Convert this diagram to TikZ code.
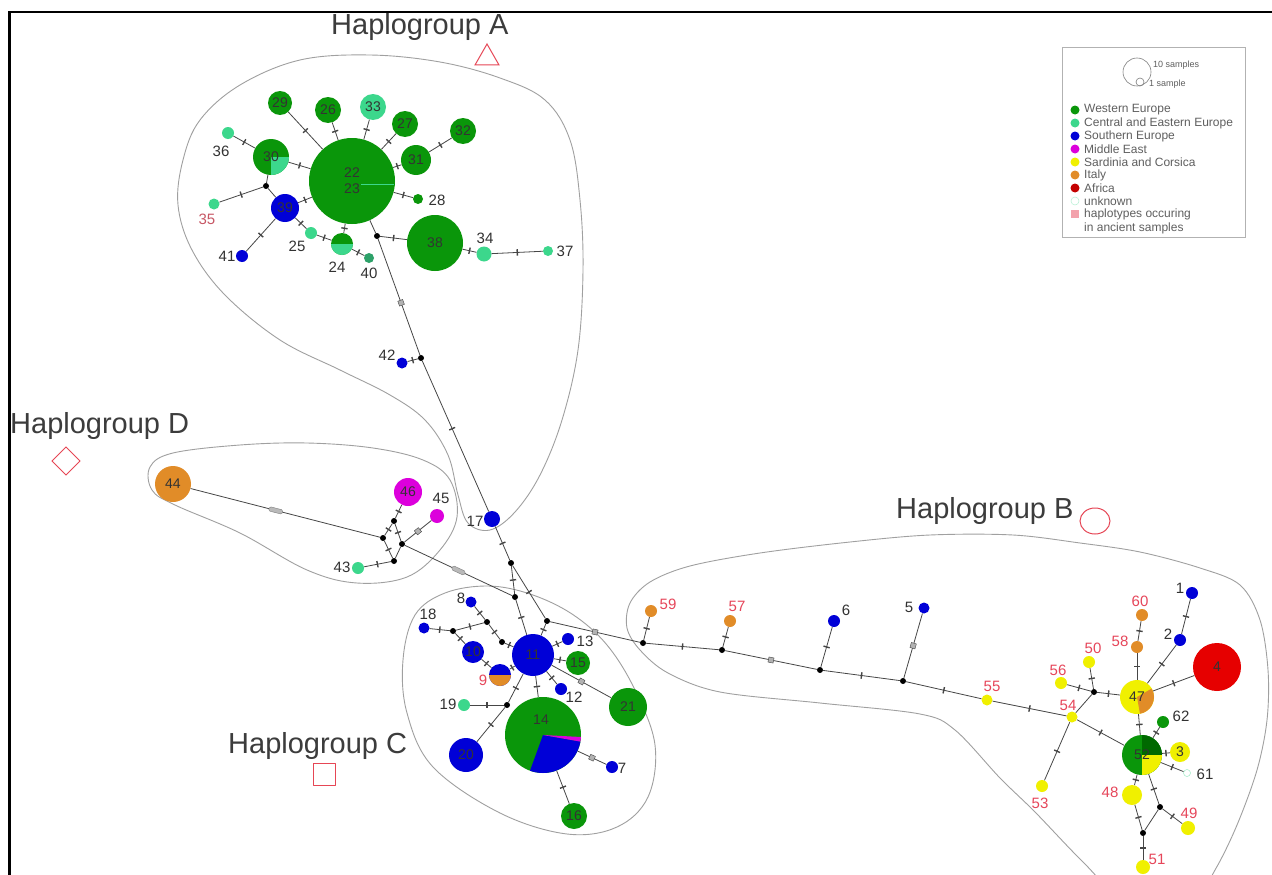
\documentclass[tikz,border=0pt]{standalone}
\usepackage{fontspec}
\setmainfont{Liberation Sans}
\usetikzlibrary{decorations.markings}
\newcommand\fsz[1]{\fontsize{#1}{#1}\selectfont}
\newcommand\hwedge[5]{\fill[#1] (#2) -- ++(#3:#5) arc[start angle=#3, end angle=#4, radius=#5] -- cycle;}
\definecolor{we}{RGB}{10,150,10}
\definecolor{wedark}{RGB}{0,105,0}
\definecolor{cee}{RGB}{60,215,140}
\definecolor{se}{RGB}{0,0,215}
\definecolor{me}{RGB}{220,0,220}
\definecolor{sc}{RGB}{240,240,0}
\definecolor{it}{RGB}{225,140,40}
\definecolor{af}{RGB}{230,0,0}
\definecolor{anc}{RGB}{230,70,90}
\definecolor{lab}{RGB}{50,50,50}
\definecolor{hullc}{RGB}{160,160,160}
\definecolor{edgec}{RGB}{70,70,70}
\definecolor{grpc}{RGB}{60,60,60}
\definecolor{symc}{RGB}{230,70,85}
\definecolor{legc}{RGB}{95,95,95}
\begin{document}
\begin{tikzpicture}[x=1pt,y=-1pt,
 hap/.style={circle, inner sep=0pt, text=black!80, font=\fsz{14}},
 jn/.style={circle, fill=black, inner sep=0pt, minimum size=6pt},
 lbl/.style={inner sep=0pt, text=lab, font=\fsz{15}},
 alb/.style={lbl, text=anc},
 edge/.style={draw=edgec, line width=0.8pt},
 mut/.style={postaction={decorate, decoration={markings, mark=at position #1 with {\fill[edgec] (-0.7pt,-3.2pt) rectangle (0.7pt,3.2pt);}}}},
 mut/.default=0.5,
 mutd/.style={postaction={decorate, decoration={markings, mark=at position #1 with {\filldraw[fill=gray!60, draw=edgec, line width=0.4pt] (-2.6pt,-2.6pt) rectangle (2.6pt,2.6pt);}}}},
 mutd/.default=0.5,
 mutl/.style={postaction={decorate, decoration={markings, mark=at position #1 with {\filldraw[fill=gray!55, draw=gray, line width=0.4pt, rounded corners=1.5pt] (-7pt,-2.2pt) rectangle (7pt,2.2pt);}}}},
 mutl/.default=0.5,
 hull/.style={draw=hullc, line width=0.9pt},
 grp/.style={font=\fsz{29}, text=grpc, inner sep=0pt, anchor=base west},
 sym/.style={draw=symc, line width=1pt},
 legt/.style={font=\fsz{12}, text=legc, inner sep=0pt, anchor=west},
]
\useasboundingbox (0,0) rectangle (1272,875);
\clip (0,0) rectangle (1272,875);
\fill[white] (0,0) rectangle (1272,875);
\draw[line width=2.5pt] (9.5,900) -- (9.5,12) -- (1300,12);

% ---------- hulls ----------
\draw[hull] plot[smooth cycle, tension=0.6] coordinates {(183,160) (200,120) (240,85) (300,60) (370,55) (440,62) (500,78) (545,100) (570,140) (580,200) (583,270) (578,350) (562,420) (540,475) (515,512) (490,530) (468,523) (458,495) (448,455) (425,420) (390,395) (340,370) (280,340) (225,295) (192,250) (178,205)};
\draw[hull] plot[smooth cycle, tension=0.6] coordinates {(150,467) (173,453) (240,445) (307,443) (373,448) (423,460) (450,480) (457,517) (440,550) (407,577) (357,583) (307,570) (240,533) (175,505) (152,490)};
\draw[hull] plot[smooth cycle, tension=0.6] coordinates {(403,660) (415,615) (445,593) (488,586) (530,594) (572,614) (607,645) (635,690) (655,745) (648,797) (617,827) (567,834) (500,813) (433,767) (407,713)};
\draw[hull] plot[smooth cycle, tension=0.55] coordinates {(627,628) (630,603) (650,582) (690,566) (760,553) (850,542) (930,535) (1013,535) (1080,543) (1140,552) (1200,568) (1240,585) (1260,620) (1268,670) (1267,720) (1257,770) (1237,825) (1215,870) (1190,905) (1130,905) (1083,862) (1035,812) (1000,778) (955,730) (920,714) (820,703) (720,692) (668,673) (640,650)};

% ---------- group labels ----------
\node[grp] (hA) at (331,35) {Haplogroup A};
\node[grp] (hD) at (10,433) {Haplogroup D};
\node[grp] (hC) at (228,753) {Haplogroup C};
\node[grp] (hB) at (896,518) {Haplogroup B};
\draw[sym] (475,65) -- (487,44) -- (499,65) -- cycle;
\draw[sym] (52,461) -- (66,447) -- (80,461) -- (66,475) -- cycle;
\draw[draw=symc, line width=1.2pt, line join=round] (313.5,763.5) -- (335.5,763.5) -- (335.5,785.5) -- (313.5,785.5) -- cycle;
\draw[sym] (1095,521) ellipse[x radius=15, y radius=13];

% ---------- legend ----------
\draw[draw=gray!60, line width=0.6pt] (1062,47) rectangle (1245,237);
\draw[gray, line width=0.6pt] (1137,72) circle[radius=14];
\draw[gray, line width=0.6pt] (1140,82) circle[radius=4];
\node[legt, font=\fsz{9}] (ls10) at (1153,65) {10 samples};
\node[legt, font=\fsz{9}] (ls1) at (1149,84) {1 sample};
\fill[we] (1075,110) circle[radius=4.5];
\fill[cee] (1075,123) circle[radius=4.5];
\fill[se] (1075,136) circle[radius=4.5];
\fill[me] (1075,149) circle[radius=4.5];
\fill[sc] (1075,162) circle[radius=4.5];
\fill[it] (1075,175) circle[radius=4.5];
\fill[af!85!black] (1075,188) circle[radius=4.5];
\draw[cee!40, fill=white, line width=0.5pt] (1075,201) circle[radius=4];
\fill[anc!50] (1071,210) rectangle (1079,218);
\node[legt] (lg1) at (1084,110) {Western Europe};
\node[legt] (lg2) at (1084,123) {Central and Eastern Europe};
\node[legt] (lg3) at (1084,136) {Southern Europe};
\node[legt] (lg4) at (1084,149) {Middle East};
\node[legt] (lg5) at (1084,162) {Sardinia and Corsica};
\node[legt] (lg6) at (1084,175) {Italy};
\node[legt] (lg7) at (1084,188) {Africa};
\node[legt] (lg8) at (1084,201) {unknown};
\node[legt] (lg9) at (1084,214) {haplotypes occuring};
\node[legt] (lg10) at (1084,228) {in ancient samples};

% ---------- Haplogroup A nodes ----------
\node[hap, fill=we, minimum size=86pt, align=center, font=\fontsize{14}{16}\selectfont] (n22) at (352,181) {22\\23};
\draw[cee, line width=0.8pt] (361,184) -- (394,184);
\node[hap, fill=we, minimum size=24pt] (n29) at (280,103) {29};
\node[hap, fill=we, minimum size=26pt] (n26) at (328,110) {26};
\node[hap, fill=cee, minimum size=26pt] (n33) at (373,107) {33};
\node[hap, fill=we, minimum size=26pt] (n27) at (405,124) {27};
\node[hap, fill=we, minimum size=26pt] (n32) at (463,131) {32};
\node[hap, fill=we, minimum size=30pt] (n31) at (416,160) {31};
\node[hap, fill=we, minimum size=36pt] (n30) at (271,157) {};
\hwedge{cee}{n30.center}{0}{90}{18}
\node[hap] (t30) at (n30.center) {30};
\node[hap, fill=cee, minimum size=12pt] (n36) at (228,133) {};
\node[hap, fill=cee, minimum size=11pt] (n35) at (214,204) {};
\node[hap, fill=se, minimum size=28pt] (n39) at (285,208) {39};
\node[hap, fill=se, minimum size=12pt] (n41) at (242,256) {};
\node[hap, fill=cee, minimum size=12pt] (n25) at (311,233) {};
\node[hap, fill=we, minimum size=22pt] (n24) at (342,244) {};
\hwedge{cee}{n24.center}{0}{180}{11}
\node[hap, fill=cee!75!black, minimum size=10pt] (n40) at (369,258) {};
\node[hap, fill=we, minimum size=10pt] (n28) at (418,199) {};
\node[hap, fill=we, minimum size=56pt] (n38) at (435,243) {38};
\node[hap, fill=cee, minimum size=15pt] (n34) at (484,254) {};
\node[hap, fill=cee, minimum size=10pt] (n37) at (548,251) {};
\node[jn] (jA1) at (266,186) {};
\node[jn] (jA2) at (377,236) {};
\node[jn] (jA3) at (421,358) {};
\node[hap, fill=se, minimum size=11pt] (n42) at (402,363) {};
\node[hap, fill=se, minimum size=16pt] (n17) at (492,519) {};
\node[lbl] (l36) at (221,151) {36};
\node[alb, text=anc!70!gray] (l35) at (207,219) {35};
\node[lbl] (l41) at (227,256) {41};
\node[lbl] (l25) at (297,246) {25};
\node[lbl] (l24) at (337,267) {24};
\node[lbl] (l40) at (369,273) {40};
\node[lbl] (l28) at (437,200) {28};
\node[lbl] (l34) at (485,238) {34};
\node[lbl] (l37) at (565,251) {37};
\node[lbl] (l42) at (387,355) {42};
\node[lbl] (l17) at (475,521) {17};

% ---------- Haplogroup D nodes ----------
\node[hap, fill=it, minimum size=36pt] (n44) at (173,484) {44};
\node[hap, fill=me, minimum size=28pt] (n46) at (408,492) {46};
\node[hap, fill=me, minimum size=14pt] (n45) at (437,516) {};
\node[hap, fill=cee, minimum size=12pt] (n43) at (358,568) {};
\node[jn] (jD1) at (394,521) {};
\node[jn] (jD2) at (383,538) {};
\node[jn] (jD3) at (402,544) {};
\node[jn] (jD4) at (394,561) {};
\node[lbl] (l45) at (441,498) {45};
\node[lbl] (l43) at (342,567) {43};

% ---------- Haplogroup C nodes ----------
\node[jn] (jC0) at (511,563) {};
\node[jn] (jC1) at (515,597) {};
\node[jn] (jC2) at (547,621) {};
\node[hap, fill=se, minimum size=42pt] (n11) at (533,655) {11};
\node[hap, fill=se, minimum size=12pt] (n13) at (568,639) {};
\node[hap, fill=we, minimum size=24pt] (n15) at (578,663) {15};
\node[hap, fill=se, minimum size=12pt] (n12) at (561,689) {};
\node[hap, fill=we, minimum size=38pt] (n21) at (628,707) {21};
\node[hap, fill=we, minimum size=76pt] (n14) at (543,735) {};
\hwedge{se}{n14.center}{10}{110}{38}
\hwedge{me}{n14.center}{3}{10}{38}
\node[hap] (t14) at (541,720) {14};
\node[hap, fill=se, minimum size=12pt] (n7) at (612,767) {};
\node[hap, fill=we, minimum size=26pt] (n16) at (574,816) {16};
\node[hap, fill=se, minimum size=34pt] (n20) at (466,755) {20};
\node[hap, fill=cee, minimum size=12pt] (n19) at (464,705) {};
\node[jn] (jC6) at (507,705) {};
\node[hap, fill=se, minimum size=22pt] (n9) at (500,675) {};
\hwedge{it}{n9.center}{0}{180}{11}
\node[hap, fill=se, minimum size=22pt] (n10) at (473,652) {10};
\node[jn] (jC3) at (453,631) {};
\node[jn] (jC4) at (487,622) {};
\node[jn] (jC5) at (502,642) {};
\node[hap, fill=se, minimum size=11pt] (n18) at (424,628) {};
\node[hap, fill=se, minimum size=11pt] (n8) at (471,602) {};
\node[lbl] (l13) at (585,641) {13};
\node[lbl] (l12) at (574,697) {12};
\node[lbl] (l7) at (622,768) {7};
\node[lbl] (l19) at (448,704) {19};
\node[alb] (l9) at (483,680) {9};
\node[lbl] (l18) at (428,614) {18};
\node[lbl] (l8) at (461,598) {8};

% ---------- Haplogroup B nodes ----------
\node[jn] (jB1) at (643,643) {};
\node[hap, fill=it, minimum size=12pt] (n59) at (651,611) {};
\node[jn] (jB2) at (722,650) {};
\node[hap, fill=it, minimum size=12pt] (n57) at (730,621) {};
\node[jn] (jB3) at (820,670) {};
\node[hap, fill=se, minimum size=12pt] (n6) at (834,621) {};
\node[jn] (jB4) at (903,681) {};
\node[hap, fill=se, minimum size=11pt] (n5) at (924,608) {};
\node[hap, fill=sc, minimum size=11pt] (n55) at (987,700) {};
\node[hap, fill=sc, minimum size=11pt] (n54) at (1072,717) {};
\node[jn] (jB5) at (1094,692) {};
\node[hap, fill=sc, minimum size=12pt] (n50) at (1089,662) {};
\node[hap, fill=sc, minimum size=12pt] (n56) at (1061,683) {};
\node[hap, fill=sc, minimum size=34pt] (n47) at (1137,697) {};
\hwedge{it}{n47.center}{-30}{80}{17}
\node[hap] (t47) at (n47.center) {47};
\node[hap, fill=it, minimum size=12pt] (n58) at (1137,647) {};
\node[hap, fill=it, minimum size=12pt] (n60) at (1142,615) {};
\node[hap, fill=se, minimum size=12pt] (n2) at (1180,640) {};
\node[hap, fill=se, minimum size=12pt] (n1) at (1192,593) {};
\node[hap, fill=af, minimum size=48pt] (n4) at (1217,667) {4};
\node[hap, fill=we, minimum size=12pt] (n62) at (1163,722) {};
\node[hap, fill=we, minimum size=40pt] (n52) at (1142,755) {};
\hwedge{wedark}{n52.center}{-90}{0}{20}
\hwedge{sc}{n52.center}{0}{90}{20}
\node[hap] (t52) at (n52.center) {52};
\node[hap, fill=sc, minimum size=20pt] (n3) at (1180,752) {3};
\node[hap, fill=white, draw=cee!50, line width=0.5pt, minimum size=7pt] (n61) at (1187,773) {};
\node[hap, fill=sc, minimum size=12pt] (n53) at (1042,786) {};
\node[hap, fill=sc, minimum size=20pt] (n48) at (1132,795) {};
\node[jn] (jB6) at (1160,807) {};
\node[jn] (jB7) at (1143,833) {};
\node[hap, fill=sc, minimum size=14pt] (n49) at (1188,828) {};
\node[hap, fill=sc, minimum size=14pt] (n51) at (1143,867) {};
\node[alb] (l59) at (668,604) {59};
\node[alb] (l57) at (737,606) {57};
\node[lbl] (l6) at (846,610) {6};
\node[lbl] (l5) at (909,607) {5};
\node[alb] (l55) at (992,686) {55};
\node[alb] (l54) at (1068,705) {54};
\node[alb] (l50) at (1093,648) {50};
\node[alb] (l56) at (1058,670) {56};
\node[alb] (l58) at (1120,641) {58};
\node[alb] (l60) at (1140,601) {60};
\node[lbl] (l2) at (1168,634) {2};
\node[lbl] (l1) at (1180,588) {1};
\node[lbl] (l62) at (1181,716) {62};
\node[lbl] (l61) at (1205,774) {61};
\node[alb] (l53) at (1040,803) {53};
\node[alb] (l48) at (1110,792) {48};
\node[alb] (l49) at (1189,813) {49};
\node[alb] (l51) at (1157,859) {51};

% ---------- edges A ----------
\draw[edge, mut] (n29) -- (n22);
\draw[edge, mut] (n26) -- (n22);
\draw[edge, mut] (n33) -- (n22);
\draw[edge, mut] (n27) -- (n22);
\draw[edge, mut] (n31) -- (n22);
\draw[edge, mut] (n32) -- (n31);
\draw[edge, mut] (n28) -- (n22);
\draw[edge, mut] (n30) -- (n22);
\draw[edge, mut] (n36) -- (n30);
\draw[edge, mut] (n39) -- (n22);
\draw[edge] (jA1) -- (n30);
\draw[edge] (jA1) -- (n39);
\draw[edge, mut] (jA1) -- (n35);
\draw[edge, mut] (n41) -- (n39);
\draw[edge, mut] (n25) -- (n39);
\draw[edge, mut] (n25) -- (n24);
\draw[edge, mut] (n24) -- (n22);
\draw[edge, mut] (n24) -- (n40);
\draw[edge] (n22) -- (jA2);
\draw[edge, mut] (jA2) -- (n38);
\draw[edge, mut] (n38) -- (n34);
\draw[edge, mut] (n34) -- (n37);
\draw[edge, mutd=0.55] (jA2) -- (jA3);
\draw[edge, mut] (n42) -- (jA3);
\draw[edge, mut=0.45] (jA3) -- (n17);

% ---------- edges D ----------
\draw[edge, mutl=0.45] (n44) -- (jD2);
\draw[edge, mut] (n46) -- (jD1);
\draw[edge, mut] (jD1) -- (jD2);
\draw[edge, mut] (jD1) -- (jD3);
\draw[edge, mut] (jD2) -- (jD4);
\draw[edge] (jD3) -- (jD4);
\draw[edge, mut] (jD4) -- (n43);
\draw[edge, mutd] (jD3) -- (n45);
\draw[edge, mutl] (jD3) -- (jC1);

% ---------- edges C ----------
\draw[edge, mut] (n17) -- (jC0);
\draw[edge, mut] (jC0) -- (jC1);
\draw[edge, mut] (jC0) -- (jC2);
\draw[edge, mut] (jC1) -- (n11);
\draw[edge, mut] (jC2) -- (n11);
\draw[edge, mutd] (jC2) -- (jB1);
\draw[edge, mut] (n13) -- (n11);
\draw[edge, mut] (n15) -- (n11);
\draw[edge, mut] (n12) -- (n11);
\draw[edge, mutd] (n21) -- (n11);
\draw[edge, mut] (n14) -- (n11);
\draw[edge, mutd] (n14) -- (n7);
\draw[edge, mut] (n14) -- (n16);
\draw[edge, mut] (jC6) -- (n11);
\draw[edge, mut] (jC6) -- (n19);
\draw[edge, mut] (jC6) -- (n20);
\draw[edge, mut] (n9) -- (n11);
\draw[edge, mut] (n9) -- (n10);
\draw[edge, mut] (jC3) -- (n10);
\draw[edge, mut] (n18) -- (jC3);
\draw[edge, mut] (jC3) -- (jC4);
\draw[edge, mut] (n8) -- (jC4);
\draw[edge, mut] (jC4) -- (jC5);
\draw[edge, mut] (jC5) -- (n11);

% ---------- edges B ----------
\draw[edge, mut] (jB1) -- (n59);
\draw[edge, mut] (jB1) -- (jB2);
\draw[edge, mut] (jB2) -- (n57);
\draw[edge, mutd] (jB2) -- (jB3);
\draw[edge, mut] (jB3) -- (n6);
\draw[edge, mut] (jB3) -- (jB4);
\draw[edge, mutd] (jB4) -- (n5);
\draw[edge, mut] (jB4) -- (n55);
\draw[edge, mut] (n55) -- (n54);
\draw[edge] (n54) -- (jB5);
\draw[edge, mut] (jB5) -- (n50);
\draw[edge, mut] (jB5) -- (n56);
\draw[edge, mut] (jB5) -- (n47);
\draw[edge, mut] (n54) -- (n53);
\draw[edge, mut] (n54) -- (n52);
\draw[edge, mut] (n47) -- (n58);
\draw[edge, mut] (n58) -- (n60);
\draw[edge, mut] (n47) -- (n2);
\draw[edge, mut] (n2) -- (n1);
\draw[edge, mut] (n47) -- (n4);
\draw[edge, mut] (n47) -- (n52);
\draw[edge, mut] (n62) -- (n52);
\draw[edge, mut] (n3) -- (n52);
\draw[edge, mut] (n61) -- (n52);
\draw[edge, mut] (n52) -- (n48);
\draw[edge, mut] (n48) -- (jB7);
\draw[edge, mut] (n52) -- (jB6);
\draw[edge, mut] (jB6) -- (n49);
\draw[edge] (jB6) -- (jB7);
\draw[edge, mut] (jB7) -- (n51);
\end{tikzpicture}
\end{document}
